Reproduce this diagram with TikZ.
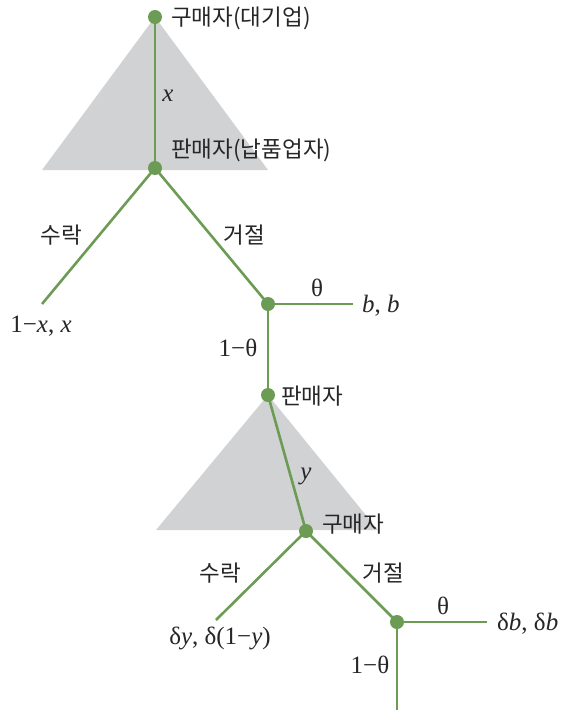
\documentclass[tikz,border=0pt]{standalone}
\usepackage{fontspec}
\newfontfamily\kr{Noto Sans CJK KR}
\newfontfamily\mth{Liberation Serif}
\definecolor{grn}{RGB}{108,156,84}
\definecolor{tri}{RGB}{209,210,212}
\begin{document}
\begin{tikzpicture}[x=1pt,y=-1pt,
  edge/.style={draw=grn,line width=2.6pt},
  dot/.style={circle,fill=grn,inner sep=0pt,minimum size=14pt},
  kl/.style={font=\kr\fontsize{22.5}{24}\selectfont,inner sep=0pt,text=black!85},
  ml/.style={font=\mth\fontsize{25}{28}\selectfont,inner sep=0pt,text=black!85},
  tribox/.style={fill=tri,draw=none}]
\useasboundingbox (0,0) rectangle (561,710);
% triangles
\fill[tribox] (155,17) -- (42,170) -- (268,170) -- cycle;
\fill[tribox] (268,395) -- (156,530) -- (378,530) -- cycle;
% points
\coordinate (n1) at (155,17);
\coordinate (n2) at (155,168);
\coordinate (la) at (42,304);
\coordinate (n3) at (268,304);
\coordinate (ra) at (353,304);
\coordinate (n4) at (268,395);
\coordinate (n5) at (306,531);
\coordinate (lb) at (216,620);
\coordinate (n6) at (397,622);
\coordinate (rb) at (487,622);
\coordinate (bb) at (397,710);
% edges
\draw[edge] (n1) -- (n2);
\draw[edge] (n2) -- (la);
\draw[edge] (n2) -- (n3);
\draw[edge] (n3) -- (ra);
\draw[edge] (n3) -- (n4);
\draw[edge] (n4) -- (n5);
\draw[edge] (n5) -- (lb);
\draw[edge] (n5) -- (n6);
\draw[edge] (n6) -- (rb);
\draw[edge] (n6) -- (bb);
% dots
\foreach \p in {n1,n2,n3,n4,n5,n6} \node[dot] (d\p) at (\p) {};
% labels
\node[kl,anchor=west] (t1) at (171,18) {구매자(대기업)};
\node[kl,anchor=west] (t2) at (171,150) {판매자(납품업자)};
\node[ml] (tx) at (168,96) {\itshape x};
\node[kl] (ta1) at (61,235) {수락};
\node[kl] (tr1) at (244,235) {거절};
\node[ml] (th1) at (317,288) {θ};
\node[ml,anchor=west] (pb1) at (362,306) {\itshape b\upshape, \itshape b};
\node[ml] (pa1) at (41,326) {1−\itshape x\upshape, \itshape x};
\node[ml] (om1) at (238,348) {1−θ};
\node[kl,anchor=west] (t3) at (281,396) {판매자};
\node[ml] (ty) at (306,476) {\itshape y};
\node[kl,anchor=west] (t4) at (322,524) {구매자};
\node[kl] (ta2) at (220,573) {수락};
\node[kl] (tr2) at (383,573) {거절};
\node[ml] (th2) at (443,606) {θ};
\node[ml,anchor=west] (pb2) at (497,624) {δ\itshape b\upshape, δ\itshape b};
\node[ml] (pa2) at (220,638) {δ\itshape y\upshape, δ(1−\itshape y\upshape)};
\node[ml] (om2) at (370,665) {1−θ};
\end{tikzpicture}
\end{document}
